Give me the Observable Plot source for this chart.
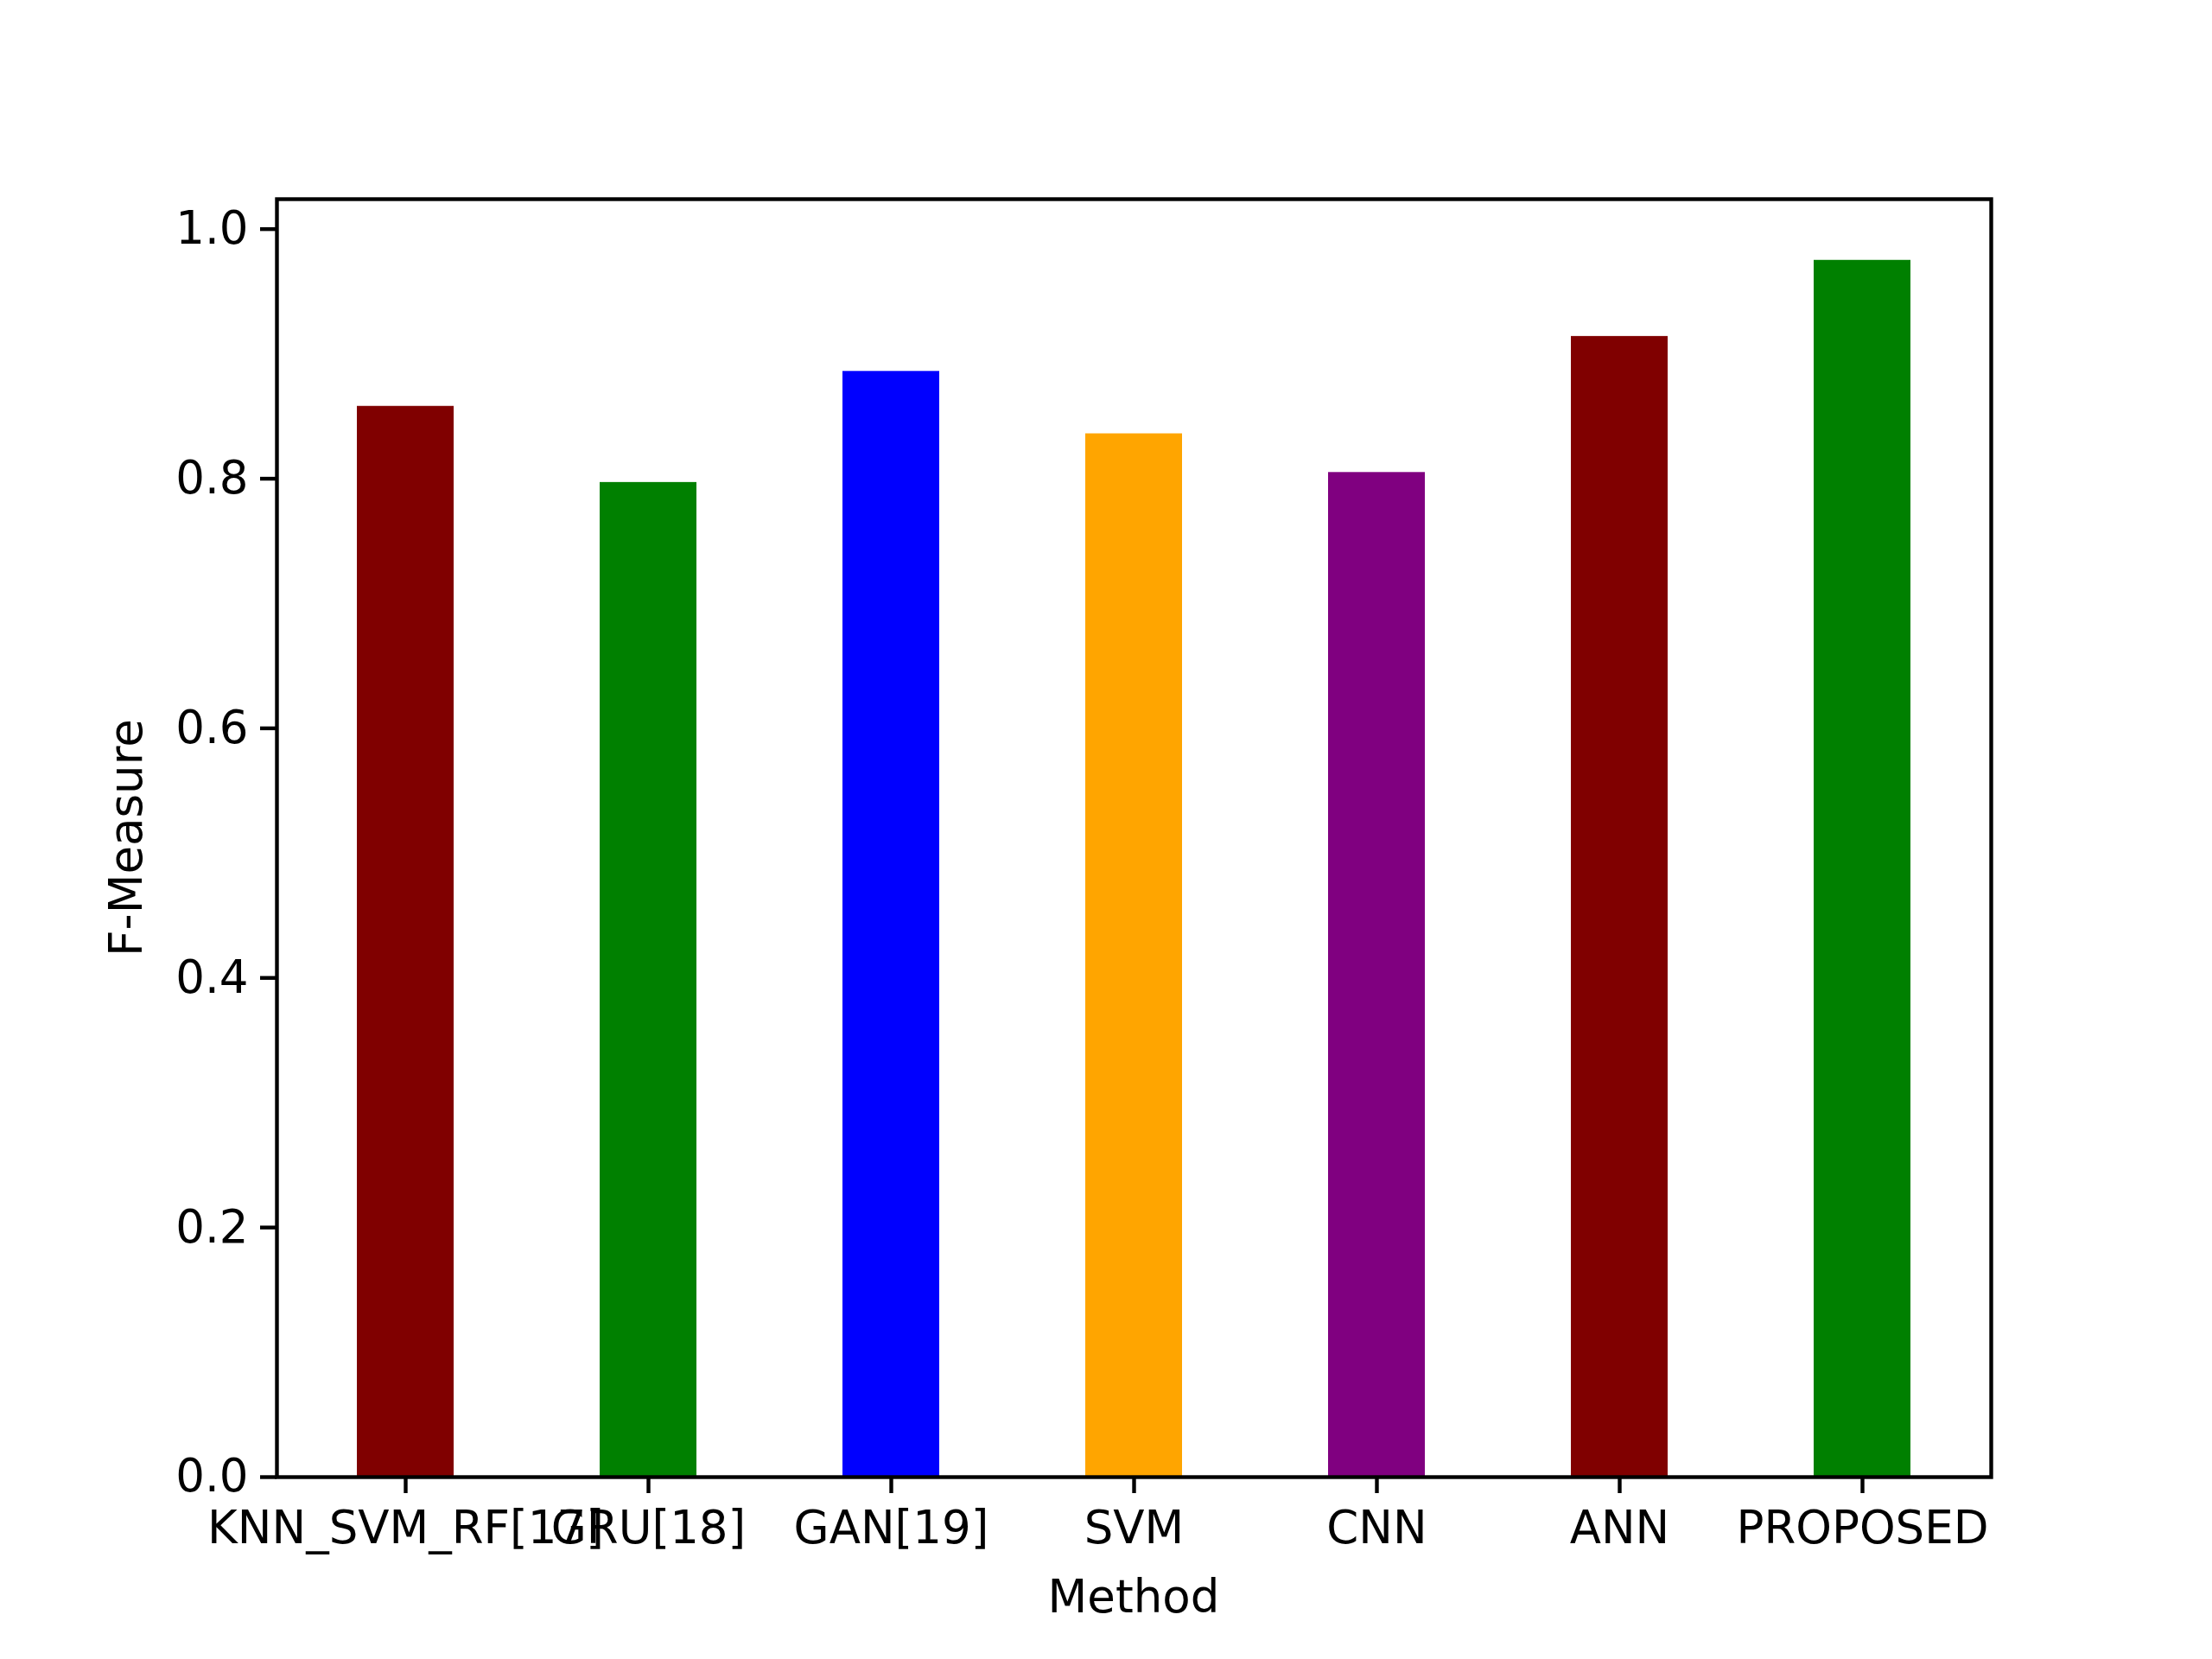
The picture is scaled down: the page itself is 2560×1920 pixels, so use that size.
<!DOCTYPE html>
<html>
<head>
<meta charset="utf-8">
<script src="https://cdn.jsdelivr.net/npm/d3@7"></script>
<script src="https://cdn.jsdelivr.net/npm/@observablehq/plot@0.6"></script>
<style>
body { margin: 0; background: white; }
</style>
</head>
<body>
<div id="chart"></div>
<script>
const methods = ["KNN_SVM_RF[17]", "GRU[18]", "GAN[19]", "SVM", "CNN", "ANN", "PROPOSED"];
const fmeasure = [0.858, 0.797, 0.886, 0.836, 0.805, 0.914, 0.975];
const colors = ["maroon", "green", "blue", "orange", "purple", "maroon", "green"];
const yTicks = [0, 0.2, 0.4, 0.6, 0.8, 1.0];

const data = methods.map((m, i) => ({method: m, value: fmeasure[i], color: colors[i]}));

const chart = Plot.plot({
  width: 2560,
  height: 1920,
  marginLeft: 320,
  marginRight: 256,
  marginTop: 230,
  marginBottom: 211,
  style: {fontFamily: "DejaVu Sans", fontSize: "53px", color: "black", background: "white"},
  x: {domain: methods, paddingInner: 0.6, paddingOuter: 0.32, label: null},
  y: {domain: [0, 1.024], label: null},
  marks: [
    Plot.barY(data, {x: "method", y: "value", fill: "color"}),
    Plot.frame({stroke: "black", strokeWidth: 4.4}),
    Plot.axisX({tickSize: 19, tickPadding: 20, fontSize: 53, label: null}),
    Plot.axisY({ticks: yTicks, tickFormat: d3.format(".1f"), tickSize: 19, tickPadding: 14, fontSize: 53, label: null})
  ]
});

const svg = d3.select(chart);
svg.append("text").attr("x", 320 + (2560 - 320 - 256) / 2).attr("y", 1866)
  .attr("text-anchor", "middle").attr("font-size", 53).attr("font-family", "DejaVu Sans").text("Method");
svg.append("text").attr("transform", "translate(164," + (230 + (1920 - 230 - 211) / 2) + ") rotate(-90)")
  .attr("text-anchor", "middle").attr("font-size", 53).attr("font-family", "DejaVu Sans").text("F-Measure");
svg.selectAll("g[aria-label='y-axis tick'] path, g[aria-label='x-axis tick'] path").attr("stroke-width", 4.4);

document.getElementById("chart").append(chart);
</script>
</body>
</html>
